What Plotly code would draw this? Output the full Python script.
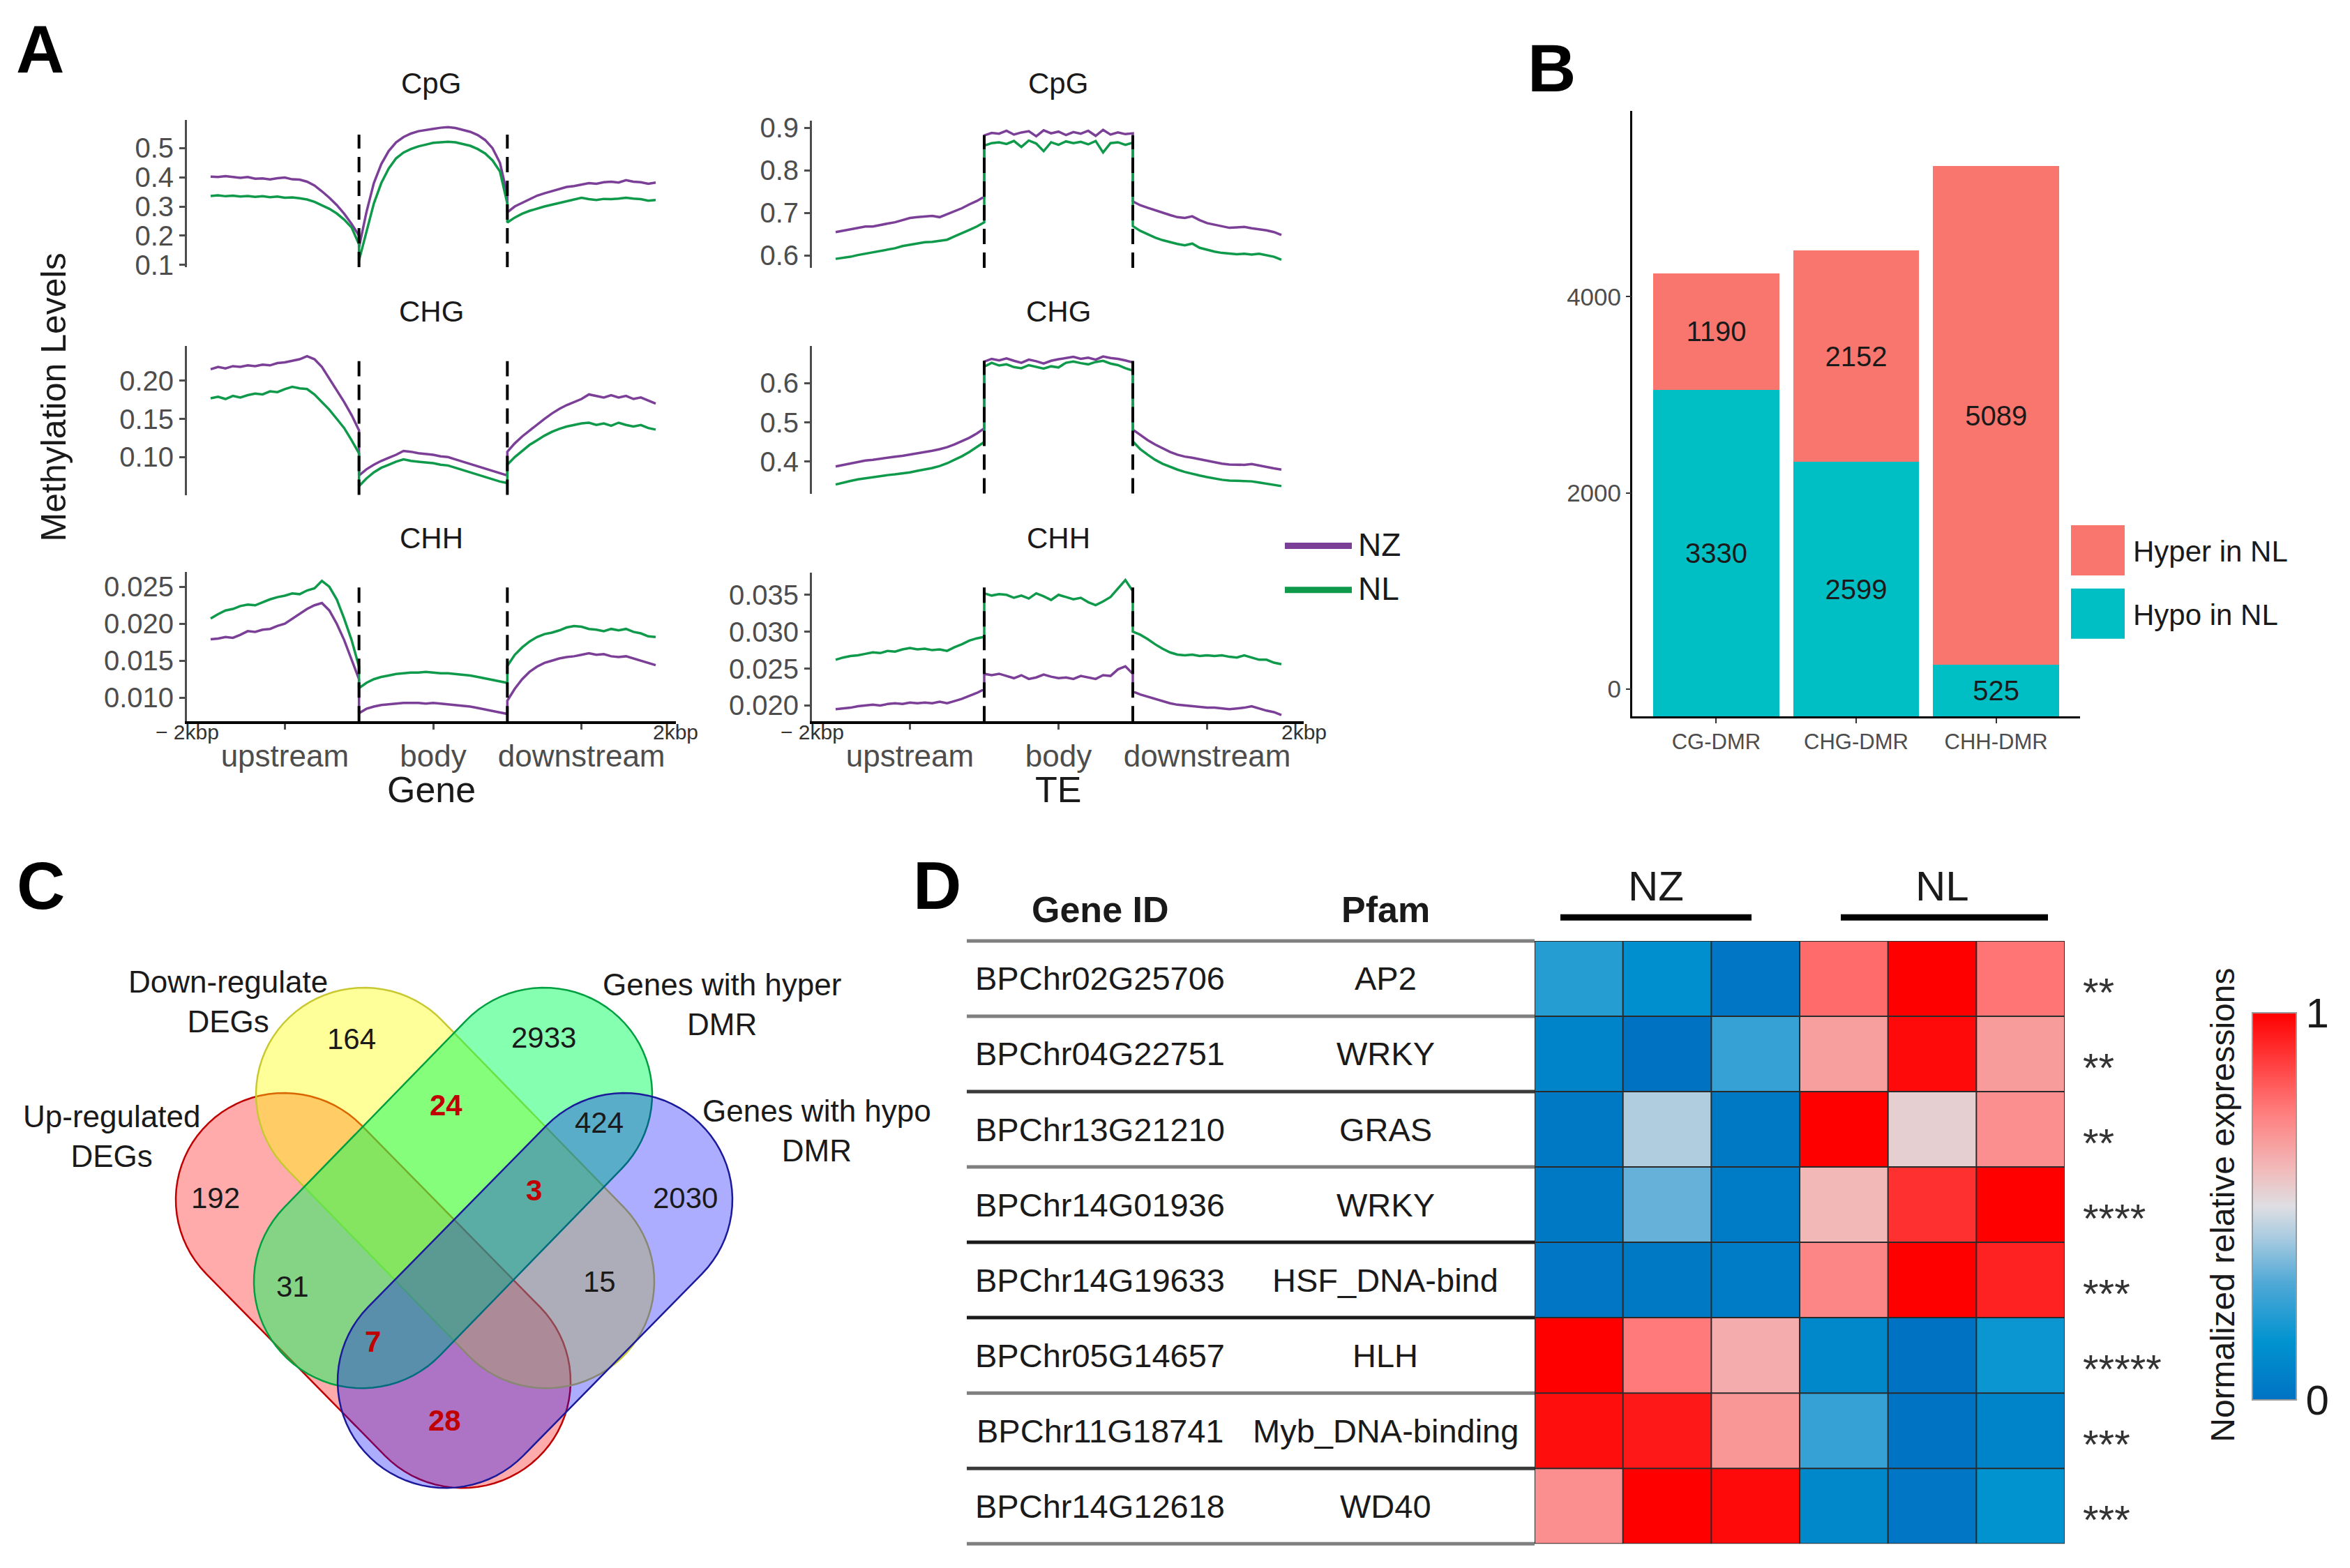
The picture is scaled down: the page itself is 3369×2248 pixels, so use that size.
import math
import plotly.graph_objects as go

W, H = 3369, 2248
FONT = "Liberation Sans, Arial, sans-serif"


def px(x):
    return x / W


def py(y):
    return 1 - y / H


# ---------------- Panel A data (methylation profiles) ----------------
CONTEXTS = ["CpG", "CHG", "CHH"]
SAMPLES = ["NZ", "NL"]
SAMPLE_COLORS = {"NZ": "#7B3F98", "NL": "#0F9A4B"}
SEGMENT_LABELS = ["upstream", "body", "downstream"]
BIN_FRACTIONS = [i / 20 for i in range(21)]

GENE_CPG_NZ = [
    .402, .401, .404, .400, .398, .401, .395, .396, .393, .397, .399, .393, .392, .385, .372, .352, .330, .305, .275, .240, .200,
    .160, .280, .380, .445, .490, .520, .538, .550, .558, .563, .566, .570, .572, .569, .563, .556, .545, .528, .500, .450, .340,
    .280, .300, .313, .325, .337, .345, .352, .360, .367, .370, .375, .380, .378, .383, .385, .382, .390, .385, .383, .378, .382]
GENE_CPG_NL = [
    .336, .338, .335, .337, .334, .336, .333, .335, .332, .334, .330, .331, .328, .324, .316, .305, .292, .276, .255, .228, .170,
    .115, .210, .310, .380, .430, .465, .485, .497, .506, .512, .518, .520, .522, .520, .515, .508, .497, .482, .458, .420, .310,
    .245, .262, .275, .285, .293, .300, .306, .312, .318, .322, .330, .325, .322, .326, .325, .327, .330, .327, .325, .320, .322]
GENE_CHG_NZ = [
    .215, .218, .216, .219, .218, .220, .219, .221, .220, .223, .224, .226, .228, .232, .228, .218, .203, .188, .172, .155, .135,
    .076, .084, .090, .095, .099, .103, .108, .107, .105, .104, .103, .101, .100, .097, .094, .091, .088, .085, .082, .079, .076,
    .107, .118, .127, .135, .143, .150, .157, .163, .168, .172, .176, .182, .180, .178, .181, .178, .180, .176, .178, .174, .170]
GENE_CHG_NL = [
    .177, .179, .176, .180, .178, .181, .183, .182, .186, .185, .189, .192, .190, .189, .182, .172, .162, .150, .138, .122, .105,
    .062, .072, .080, .086, .090, .094, .097, .095, .094, .093, .092, .090, .089, .086, .083, .080, .077, .074, .071, .068, .066,
    .090, .100, .108, .116, .122, .128, .133, .137, .140, .142, .144, .145, .142, .144, .141, .145, .142, .140, .142, .138, .136]
GENE_CHH_NZ = [
    .0179, .0180, .0182, .0181, .0185, .0190, .0189, .0192, .0193, .0197, .0200, .0207, .0213, .0220, .0225, .0228, .0218, .0200, .0178, .0152, .0125,
    .0079, .0085, .0088, .0090, .0091, .0092, .0093, .0093, .0093, .0092, .0093, .0092, .0091, .0090, .0089, .0088, .0086, .0084, .0082, .0080, .0078,
    .0096, .0112, .0125, .0135, .0142, .0147, .0150, .0153, .0155, .0156, .0158, .0160, .0158, .0159, .0156, .0155, .0156, .0153, .0150, .0147, .0144]
GENE_CHH_NL = [
    .0207, .0213, .0218, .0220, .0224, .0226, .0225, .0229, .0233, .0236, .0238, .0241, .0240, .0245, .0248, .0258, .0250, .0233, .0207, .0178, .0142,
    .0113, .0120, .0125, .0128, .0130, .0132, .0133, .0134, .0134, .0135, .0134, .0133, .0133, .0132, .0131, .0130, .0128, .0126, .0124, .0122, .0120,
    .0143, .0158, .0168, .0176, .0182, .0186, .0188, .0191, .0195, .0197, .0196, .0193, .0192, .0190, .0193, .0191, .0193, .0189, .0187, .0183, .0182]

TE_CPG_NZ = [
    .655, .658, .662, .665, .668, .668, .672, .675, .678, .683, .688, .690, .692, .693, .690, .697, .703, .711, .720, .728, .738,
    .882, .888, .886, .893, .884, .889, .892, .880, .894, .887, .891, .883, .890, .886, .893, .881, .895, .884, .889, .885, .887,
    .727, .718, .712, .706, .700, .695, .690, .688, .692, .683, .676, .672, .668, .665, .666, .667, .664, .662, .659, .655, .648]
TE_CPG_NL = [
    .592, .594, .597, .601, .604, .607, .610, .613, .617, .622, .625, .628, .631, .632, .634, .637, .645, .652, .660, .668, .678,
    .858, .864, .866, .862, .869, .855, .870, .863, .845, .866, .860, .868, .864, .867, .861, .869, .842, .864, .866, .860, .865,
    .669, .658, .650, .642, .636, .631, .627, .624, .628, .618, .613, .609, .606, .604, .603, .604, .602, .604, .600, .597, .590]
TE_CHG_NZ = [
    .388, .392, .396, .400, .403, .405, .408, .410, .413, .415, .418, .421, .424, .428, .432, .437, .444, .452, .461, .472, .485,
    .655, .662, .658, .663, .657, .652, .660, .656, .650, .657, .661, .664, .667, .662, .665, .660, .668, .664, .662, .658, .653,
    .482, .468, .455, .444, .434, .425, .418, .413, .410, .406, .402, .398, .395, .393, .392, .392, .394, .390, .386, .383, .380]
TE_CHG_NL = [
    .342, .347, .351, .355, .358, .361, .363, .366, .368, .370, .373, .377, .380, .384, .389, .396, .405, .414, .425, .437, .450,
    .642, .652, .645, .648, .641, .638, .646, .641, .637, .643, .640, .652, .655, .651, .648, .654, .657, .650, .646, .638, .632,
    .452, .432, .418, .405, .395, .387, .380, .374, .369, .365, .361, .357, .354, .352, .351, .350, .350, .347, .344, .341, .338]
TE_CHH_NZ = [
    .0195, .0196, .0197, .0199, .0200, .0201, .0200, .0202, .0203, .0202, .0204, .0203, .0204, .0203, .0205, .0203, .0206, .0209, .0213, .0217, .0222,
    .0243, .0241, .0243, .0240, .0237, .0241, .0236, .0238, .0242, .0239, .0237, .0238, .0236, .0240, .0238, .0236, .0241, .0240, .0249, .0253, .0243,
    .0219, .0215, .0212, .0209, .0206, .0203, .0201, .0200, .0199, .0198, .0197, .0197, .0196, .0195, .0196, .0197, .0199, .0196, .0193, .0191, .0187]
TE_CHH_NL = [
    .0262, .0265, .0267, .0268, .0270, .0272, .0271, .0274, .0273, .0276, .0278, .0276, .0277, .0275, .0276, .0274, .0279, .0283, .0288, .0291, .0293,
    .0352, .0349, .0351, .0350, .0346, .0349, .0345, .0352, .0348, .0343, .0350, .0347, .0344, .0346, .0340, .0336, .0341, .0347, .0358, .0370, .0355,
    .0300, .0296, .0290, .0283, .0277, .0272, .0269, .0268, .0269, .0267, .0268, .0267, .0268, .0266, .0265, .0268, .0265, .0262, .0262, .0258, .0256]

GENE_SERIES = {"CpG": (GENE_CPG_NZ, GENE_CPG_NL), "CHG": (GENE_CHG_NZ, GENE_CHG_NL), "CHH": (GENE_CHH_NZ, GENE_CHH_NL)}
TE_SERIES = {"CpG": (TE_CPG_NZ, TE_CPG_NL), "CHG": (TE_CHG_NZ, TE_CHG_NL), "CHH": (TE_CHH_NZ, TE_CHH_NL)}

# ---------------- Panel B data ----------------
DMR_TYPES = ["CG-DMR", "CHG-DMR", "CHH-DMR"]
HYPO_IN_NL = [3330, 2599, 525]
HYPER_IN_NL = [1190, 2152, 5089]
B_COLORS = {"hyper": "#F8766D", "hypo": "#00BFC4"}

# ---------------- Panel C data ----------------
VENN_SETS = ["Up-regulated\nDEGs", "Down-regulate\nDEGs", "Genes with hyper\nDMR", "Genes with hypo\nDMR"]
VENN_REGION_COUNTS = [192, 164, 2933, 2030, 24, 424, 3, 31, 15, 7, 28]
VENN_HIGHLIGHT = [False, False, False, False, True, False, True, False, False, True, True]

# ---------------- Panel D data ----------------
GENE_IDS = ["BPChr02G25706", "BPChr04G22751", "BPChr13G21210", "BPChr14G01936",
            "BPChr14G19633", "BPChr05G14657", "BPChr11G18741", "BPChr14G12618"]
PFAM = ["AP2", "WRKY", "GRAS", "WRKY", "HSF_DNA-bind", "HLH", "Myb_DNA-binding", "WD40"]
SIGNIF = ["**", "**", "**", "****", "***", "*****", "***", "***"]
EXPR = [
    [0.22, 0.13, 0.02, 0.78, 1.00, 0.76],
    [0.08, 0.00, 0.25, 0.66, 0.98, 0.67],
    [0.03, 0.43, 0.03, 1.00, 0.54, 0.70],
    [0.03, 0.33, 0.04, 0.60, 0.90, 1.00],
    [0.02, 0.03, 0.04, 0.72, 1.00, 0.93],
    [1.00, 0.75, 0.63, 0.10, 0.00, 0.17],
    [0.97, 0.95, 0.68, 0.25, 0.01, 0.08],
    [0.70, 1.00, 0.98, 0.10, 0.02, 0.15],
]
GROUPS = ["NZ", "NL"]

fig = go.Figure()
layout = dict(width=W, height=H, margin=dict(l=0, r=0, t=0, b=0),
              paper_bgcolor="white", plot_bgcolor="white", showlegend=False,
              font=dict(family=FONT, color="#1a1a1a"))
shapes = []
ann = []


def text(x, y, s, size, color="#1a1a1a", bold=False, xanchor="center", angle=0):
    if bold:
        s = "<b>" + s + "</b>"
    ann.append(dict(x=px(x), y=py(y), xref="paper", yref="paper", text=s, showarrow=False,
                    xanchor=xanchor, yanchor="middle", textangle=angle,
                    font=dict(size=size, color=color, family=FONT)))


# ---------------- Panel A ----------------
A_PANELS = [
    ("Gene", GENE_SERIES, 1, 268, 969, 302, 940,
     [(163, 377, [0.092, 0.597], [0.1, 0.2, 0.3, 0.4, 0.5], ".1f"),
      (492, 708, [0.0505, 0.245], [0.10, 0.15, 0.20], ".2f"),
      (820, 1037, [0.0068, 0.027], [0.010, 0.015, 0.020, 0.025], ".3f")], 618),
    ("TE", TE_SERIES, 4, 1164, 1869, 1198, 1837,
     [(164, 378, [0.571, 0.917], [0.6, 0.7, 0.8, 0.9], ".1f"),
      (492, 706, [0.319, 0.694], [0.4, 0.5, 0.6], ".1f"),
      (821, 1037, [0.01785, 0.038], [0.020, 0.025, 0.030, 0.035], ".3f")], 1517),
]

for name, series, first, xl, xr, x0px, x3px, rows, xc in A_PANELS:
    unit = (x3px - x0px) / 3
    xrange = [(xl - x0px) / unit, (xr - x0px) / unit]
    for k, ctx in enumerate(CONTEXTS):
        idx = first + k
        xa = "x" if idx == 1 else f"x{idx}"
        ya = "y" if idx == 1 else f"y{idx}"
        top, bot, yr, tv, fmt = rows[k]
        xs = [seg + f for seg in range(3) for f in BIN_FRACTIONS]
        for s, vals in zip(SAMPLES, series[ctx]):
            fig.add_trace(go.Scatter(x=xs, y=vals, mode="lines", xaxis=xa, yaxis=ya,
                                     line=dict(color=SAMPLE_COLORS[s], width=3.5), name=s,
                                     hoverinfo="skip"))
        bottom = (k == 2)
        xkey = "xaxis" if idx == 1 else f"xaxis{idx}"
        ykey = "yaxis" if idx == 1 else f"yaxis{idx}"
        layout[xkey] = dict(domain=[px(xl), px(xr)], range=xrange, anchor=ya,
                            showgrid=False, zeroline=False,
                            showline=bottom, linecolor="black", linewidth=4,
                            ticks="outside" if bottom else "", ticklen=8, tickwidth=3,
                            tickcolor="#4D4D4D",
                            tickvals=[0.5, 1.5, 2.5], ticktext=SEGMENT_LABELS,
                            showticklabels=bottom,
                            tickfont=dict(size=44, color="#4D4D4D", family=FONT))
        layout[ykey] = dict(domain=[py(bot), py(top)], range=yr, anchor=xa,
                            showgrid=False, zeroline=False, showline=True,
                            linecolor="#4D4D4D", linewidth=3, ticks="outside",
                            ticklen=8, tickwidth=3, tickcolor="#4D4D4D",
                            tickvals=tv, tickformat=fmt,
                            tickfont=dict(size=40, color="#4D4D4D", family=FONT))
        for b in (1, 2):
            shapes.append(dict(type="line", xref=xa, yref=f"{ya} domain", x0=b, x1=b,
                               y0=0, y1=0.9, line=dict(color="black", width=4, dash="22px,12px")))
        text(xc, [110, 441, 771][k], ctx, 42, color="#1a1a1a")
    xa_b = f"x{first + 2}"
    ann.append(dict(x=0, y=py(1053), xref=f"{xa_b} domain", yref="paper", text="\u2212 2kbp",
                    showarrow=False, xanchor="center", yanchor="middle",
                    font=dict(size=30, color="#333333", family=FONT)))
    ann.append(dict(x=1, y=py(1053), xref=f"{xa_b} domain", yref="paper", text="2kbp",
                    showarrow=False, xanchor="center", yanchor="middle",
                    font=dict(size=30, color="#333333", family=FONT)))
    text(xc, 1136, name, 52)

text(77, 566, "Methylation Levels", 50, angle=-90)
for i, s in enumerate(SAMPLES):
    yy = 782 + 64 * i
    shapes.append(dict(type="line", xref="paper", yref="paper", x0=px(1842), x1=px(1938),
                       y0=py(yy), y1=py(yy), line=dict(color=SAMPLE_COLORS[s], width=9)))
    text(1945, yy - 2, s, 46, xanchor="left")

# ---------------- Panel B ----------------
max_total = max(a + b for a, b in zip(HYPO_IN_NL, HYPER_IN_NL))
pad = 0.05 * max_total
for vals, key, nm in [(HYPO_IN_NL, "hypo", "Hypo in NL"), (HYPER_IN_NL, "hyper", "Hyper in NL")]:
    fig.add_trace(go.Bar(x=DMR_TYPES, y=vals, xaxis="x7", yaxis="y7", width=0.9,
                         marker=dict(color=B_COLORS[key], line=dict(width=0)),
                         text=vals, texttemplate="%{text}", textposition="inside",
                         insidetextanchor="middle", textangle=0,
                         textfont=dict(size=40, color="#1a1a1a", family=FONT), name=nm))
fig.add_trace(go.Scatter(x=[DMR_TYPES[0]], y=[0], xaxis="x7", yaxis="y8", mode="markers",
                         marker=dict(opacity=0), hoverinfo="skip"))
layout["barmode"] = "stack"
layout["xaxis7"] = dict(domain=[px(2340), px(2982)], range=[-0.6, 2.6], anchor="y7",
                        showline=True, linecolor="black", linewidth=3, ticks="outside",
                        ticklen=7, tickwidth=2, tickcolor="#333333", showgrid=False,
                        tickfont=dict(size=31, color="#4D4D4D", family=FONT))
layout["yaxis7"] = dict(domain=[py(1030), py(150)], range=[0, max_total * 1.05 + pad],
                        anchor="x7", showline=True, linecolor="black", linewidth=3,
                        showticklabels=False, ticks="", showgrid=False, zeroline=False)
layout["yaxis8"] = dict(overlaying="y7", anchor="x7", side="left",
                        range=[-pad, max_total * 1.05], showline=False, showgrid=False,
                        zeroline=False, ticks="outside", ticklen=8, tickwidth=2,
                        tickcolor="#333333", tickvals=[0, 2000, 4000],
                        tickfont=dict(size=35, color="#4D4D4D", family=FONT))
for i, (lab, col) in enumerate([("Hyper in NL", B_COLORS["hyper"]), ("Hypo in NL", B_COLORS["hypo"])]):
    t0 = [752, 844][i]
    shapes.append(dict(type="rect", xref="paper", yref="paper", x0=px(2969), x1=px(3046),
                       y0=py(t0 + 73), y1=py(t0), fillcolor=col, line=dict(width=0)))
    text(3056, t0 + 38, lab, 42, xanchor="left")


# ---------------- Panel C (Venn) ----------------
def stadium_path(p1, p2, r, n=40):
    (x1, y1), (x2, y2) = p1, p2
    ang = math.atan2(y2 - y1, x2 - x1)
    pts = []
    for i in range(n + 1):
        a = ang - math.pi / 2 + math.pi * i / n
        pts.append((x2 + r * math.cos(a), y2 + r * math.sin(a)))
    for i in range(n + 1):
        a = ang + math.pi / 2 + math.pi * i / n
        pts.append((x1 + r * math.cos(a), y1 + r * math.sin(a)))
    return "M " + " L ".join(f"{px(x):.5f},{py(y):.5f}" for x, y in pts) + " Z"


VC = 651
R = 155
VENN_GEOM = [
    ((VC - 244, 1732), (VC + 12, 1996), "rgba(255,0,0,0.33)", "#C00000"),
    ((VC - 129, 1579), (VC + 132, 1851), "rgba(255,255,0,0.40)", "#C8C832"),
    ((VC + 129, 1579), (VC - 132, 1851), "rgba(0,255,90,0.48)", "#00A040"),
    ((VC + 244, 1732), (VC - 12, 1996), "rgba(0,0,255,0.32)", "#1A1A9A"),
]
for p1, p2, fill, line in VENN_GEOM:
    shapes.append(dict(type="path", xref="paper", yref="paper", path=stadium_path(p1, p2, R),
                       fillcolor=fill, line=dict(color=line, width=2.5), layer="above"))

VENN_LABEL_POS = [(160, 1640), (327, 1444), (1035, 1448), (1171, 1632)]
for name, (x, y) in zip(VENN_SETS, VENN_LABEL_POS):
    text(x, y, name.replace("\n", "<br>"), 44)
VENN_COUNT_POS = [(309, 1730), (504, 1499), (779, 1496), (983, 1730), (639, 1595),
                  (859, 1620), (765, 1718), (419, 1858), (859, 1851), (534, 1938), (637, 2053)]
for cnt, hl, (x, y) in zip(VENN_REGION_COUNTS, VENN_HIGHLIGHT, VENN_COUNT_POS):
    text(x, y, str(cnt), 42, color="#C00000" if hl else "#1a1a1a", bold=hl)

# ---------------- Panel D (table + heatmap) ----------------
T_TOP, T_BOT = 1356, 2232
ROW_H = (T_BOT - T_TOP) / len(GENE_IDS)
HM_L, HM_R = 2200, 2960
colorscale = [[0, "#0072C2"], [0.15, "#0093D0"], [0.3, "#4FA8D6"], [0.42, "#A9CBE0"],
              [0.5, "#DEDEE2"], [0.6, "#F2B8B8"], [0.75, "#FF7A7A"], [0.9, "#FF3030"],
              [1, "#FF0000"]]
fig.add_trace(go.Heatmap(z=EXPR, xaxis="x9", yaxis="y9", zmin=0, zmax=1,
                         colorscale=colorscale, hoverinfo="skip",
                         colorbar=dict(x=px(3229), xanchor="left", thickness=63,
                                       thicknessmode="pixels", len=563 / H, lenmode="fraction",
                                       y=py(1742), yanchor="middle", tickvals=[0, 1],
                                       ticktext=["0", "1"], ticks="", outlinewidth=2,
                                       outlinecolor="#9A9A9A", xpad=0, ypad=0,
                                       tickfont=dict(size=60, color="#1a1a1a", family=FONT))))
ncol = len(EXPR[0])
layout["xaxis9"] = dict(domain=[px(HM_L), px(HM_R)], range=[-0.5, ncol - 0.5], anchor="y9",
                        visible=False)
layout["yaxis9"] = dict(domain=[py(T_BOT), py(T_TOP)], range=[len(EXPR) - 0.5, -0.5],
                        anchor="x9", visible=False)
for c in range(ncol + 1):
    shapes.append(dict(type="line", xref="x9", yref="y9", x0=c - 0.5, x1=c - 0.5,
                       y0=-0.5, y1=len(EXPR) - 0.5, line=dict(color="#2A2A2A", width=2)))
LINE_COLORS = ["#7F7F7F", "#7F7F7F", "#3A3A3A", "#7F7F7F", "#1A1A1A", "#1A1A1A",
               "#7F7F7F", "#3A3A3A", "#7F7F7F"]
for r in range(len(EXPR) + 1):
    yy = T_TOP + r * ROW_H
    shapes.append(dict(type="line", xref="paper", yref="paper", x0=px(1386), x1=px(HM_L),
                       y0=py(yy), y1=py(yy), line=dict(color=LINE_COLORS[r], width=5)))
    shapes.append(dict(type="line", xref="x9", yref="y9", x0=-0.5, x1=ncol - 0.5,
                       y0=r - 0.5, y1=r - 0.5, line=dict(color="#2A2A2A", width=2)))
for i, (g, pf, st) in enumerate(zip(GENE_IDS, PFAM, SIGNIF)):
    yc = T_TOP + (i + 0.5) * ROW_H
    text(1577, yc, g, 47)
    text(1986, yc, pf, 47)
    text(2984, yc + 20, st, 58, color="#333333", xanchor="left")
text(1577, 1310, "Gene ID", 52, bold=True)
text(1986, 1310, "Pfam", 52, bold=True)
for gname, (gx, b0, b1) in zip(GROUPS, [(2374, 2237, 2511), (2784, 2639, 2936)]):
    text(gx, 1277, gname, 60)
    shapes.append(dict(type="line", xref="paper", yref="paper", x0=px(b0), x1=px(b1),
                       y0=py(1322), y1=py(1322), line=dict(color="black", width=9)))
text(3187, 1740, "Normalized relative expressions", 48, angle=-90)

# ---------------- panel letters ----------------
for lab, (x, y) in zip("ABCD", [(57, 60), (2224, 88), (58, 1276), (1343, 1276)]):
    text(x, y, lab, 96, color="black", bold=True)

layout["shapes"] = shapes
layout["annotations"] = ann
fig.update_layout(**layout)
fig.write_html("out.html", config={"displayModeBar": False},
               post_script="document.body.style.margin='0';document.body.style.padding='0';")
